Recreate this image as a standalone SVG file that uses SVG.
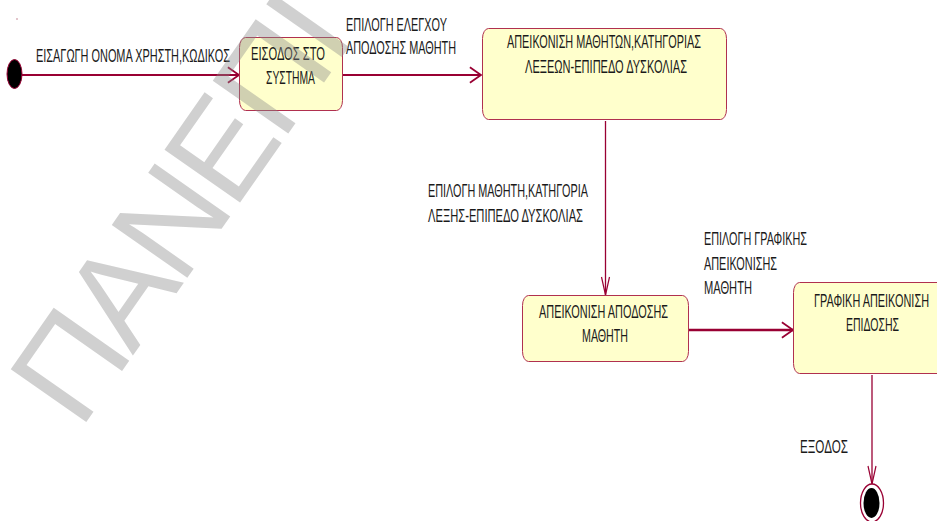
<svg xmlns="http://www.w3.org/2000/svg" width="937" height="521" viewBox="0 0 937 521">
<style>
.t{font-family:"Liberation Sans",Arial,sans-serif;font-size:19px;fill:#1a1a1a}
.box{fill:#ffffcc;stroke:#b0304f;stroke-width:1}
.ln{fill:none;stroke:#990033}
.wm{font-family:"Liberation Sans",Arial,sans-serif;font-size:134px;fill:#8a8a8a;fill-opacity:0.4;letter-spacing:-5px}
</style>
<defs>
<marker id="aH" markerUnits="userSpaceOnUse" orient="auto" markerWidth="20" markerHeight="20" viewBox="-12 -9 14 18" refX="0" refY="0" overflow="visible">
<path d="M-10,-7 L0,0 L-10,7" fill="none" stroke="#990033" stroke-width="1.6"/>
</marker>
<marker id="aV" markerUnits="userSpaceOnUse" orient="auto" markerWidth="24" markerHeight="12" viewBox="-20 -6 22 12" refX="0" refY="0" overflow="visible">
<path d="M-18,-4 L0,0 L-18,4" fill="none" stroke="#990033" stroke-width="1.2"/>
</marker>
</defs>
<rect width="937" height="521" fill="#ffffff"/>
<circle cx="17" cy="19" r="0.7" fill="#b06070"/>

<g id="connectors">
<line class="ln" x1="22" y1="75" x2="239" y2="75" stroke-width="2" marker-end="url(#aH)"/>
<line class="ln" x1="342" y1="75" x2="481" y2="75" stroke-width="2" marker-end="url(#aH)"/>
<line class="ln" x1="605.5" y1="121" x2="605.5" y2="295" stroke-width="1.3" marker-end="url(#aV)"/>
<line class="ln" x1="689" y1="330" x2="793" y2="330" stroke-width="2.6" marker-end="url(#aH)"/>
<line class="ln" x1="872" y1="375" x2="872" y2="484" stroke-width="1.3" marker-end="url(#aV)"/>
<text class="t" x="36" y="62" textLength="194" lengthAdjust="spacingAndGlyphs">ΕΙΣΑΓΩΓΗ ΟΝΟΜΑ ΧΡΗΣΤΗ,ΚΩΔΙΚΟΣ</text>
<text class="t" x="346" y="31" textLength="101" lengthAdjust="spacingAndGlyphs">ΕΠΙΛΟΓΗ ΕΛΕΓΧΟΥ</text>
<text class="t" x="346" y="54" textLength="110" lengthAdjust="spacingAndGlyphs">ΑΠΟΔΟΣΗΣ ΜΑΘΗΤΗ</text>
<text class="t" x="428" y="197" textLength="160" lengthAdjust="spacingAndGlyphs">ΕΠΙΛΟΓΗ ΜΑΘΗΤΗ,ΚΑΤΗΓΟΡΙΑ</text>
<text class="t" x="428" y="222" textLength="155" lengthAdjust="spacingAndGlyphs">ΛΕΞΗΣ-ΕΠΙΠΕΔΟ ΔΥΣΚΟΛΙΑΣ</text>
<text class="t" x="704" y="245" textLength="103" lengthAdjust="spacingAndGlyphs">ΕΠΙΛΟΓΗ ΓΡΑΦΙΚΗΣ</text>
<text class="t" x="704" y="270" textLength="73" lengthAdjust="spacingAndGlyphs">ΑΠΕΙΚΟΝΙΣΗΣ</text>
<text class="t" x="704" y="294" textLength="48" lengthAdjust="spacingAndGlyphs">ΜΑΘΗΤΗ</text>
<text class="t" x="800" y="453" textLength="48" lengthAdjust="spacingAndGlyphs">ΕΞΟΔΟΣ</text>
</g>

<g id="initial">
<ellipse cx="14.5" cy="74" rx="7.5" ry="14.5" fill="#000" stroke="#990033" stroke-width="1"/>
</g>

<g id="n1">
<rect class="box" x="239.5" y="37.5" width="103" height="73" rx="6" ry="10"/>
<text class="t" x="251" y="60" textLength="74" lengthAdjust="spacingAndGlyphs">ΕΙΣΟΔΟΣ ΣΤΟ</text>
<text class="t" x="266" y="84" textLength="49" lengthAdjust="spacingAndGlyphs">ΣΥΣΤΗΜΑ</text>
</g>

<g id="n2">
<rect class="box" x="482.5" y="28.5" width="244" height="91" rx="6" ry="10"/>
<text class="t" x="507" y="48" textLength="194" lengthAdjust="spacingAndGlyphs">ΑΠΕΙΚΟΝΙΣΗ ΜΑΘΗΤΩΝ,ΚΑΤΗΓΟΡΙΑΣ</text>
<text class="t" x="525" y="73" textLength="162" lengthAdjust="spacingAndGlyphs">ΛΕΞΕΩΝ-ΕΠΙΠΕΔΟ ΔΥΣΚΟΛΙΑΣ</text>
</g>

<g id="n3">
<rect class="box" x="522.5" y="295.5" width="166" height="66" rx="6" ry="10"/>
<text class="t" x="539" y="318" textLength="129" lengthAdjust="spacingAndGlyphs">ΑΠΕΙΚΟΝΙΣΗ ΑΠΟΔΟΣΗΣ</text>
<text class="t" x="582" y="342" textLength="46" lengthAdjust="spacingAndGlyphs">ΜΑΘΗΤΗ</text>
</g>

<g id="n4">
<rect class="box" x="793.5" y="282.5" width="160" height="91" rx="6" ry="10"/>
<text class="t" x="814" y="307" textLength="115" lengthAdjust="spacingAndGlyphs">ΓΡΑΦΙΚΗ ΑΠΕΙΚΟΝΙΣΗ</text>
<text class="t" x="846" y="331" textLength="53" lengthAdjust="spacingAndGlyphs">ΕΠΙΔΟΣΗΣ</text>
</g>

<g id="final">
<ellipse cx="872" cy="503" rx="11.5" ry="19" fill="#fff" stroke="#990033" stroke-width="1.3"/>
<ellipse cx="871.5" cy="503" rx="8" ry="15" fill="#000"/>
</g>

<text class="wm" transform="translate(80,431) rotate(-55)">ΠΑΝΕΠΙ</text>
</svg>
